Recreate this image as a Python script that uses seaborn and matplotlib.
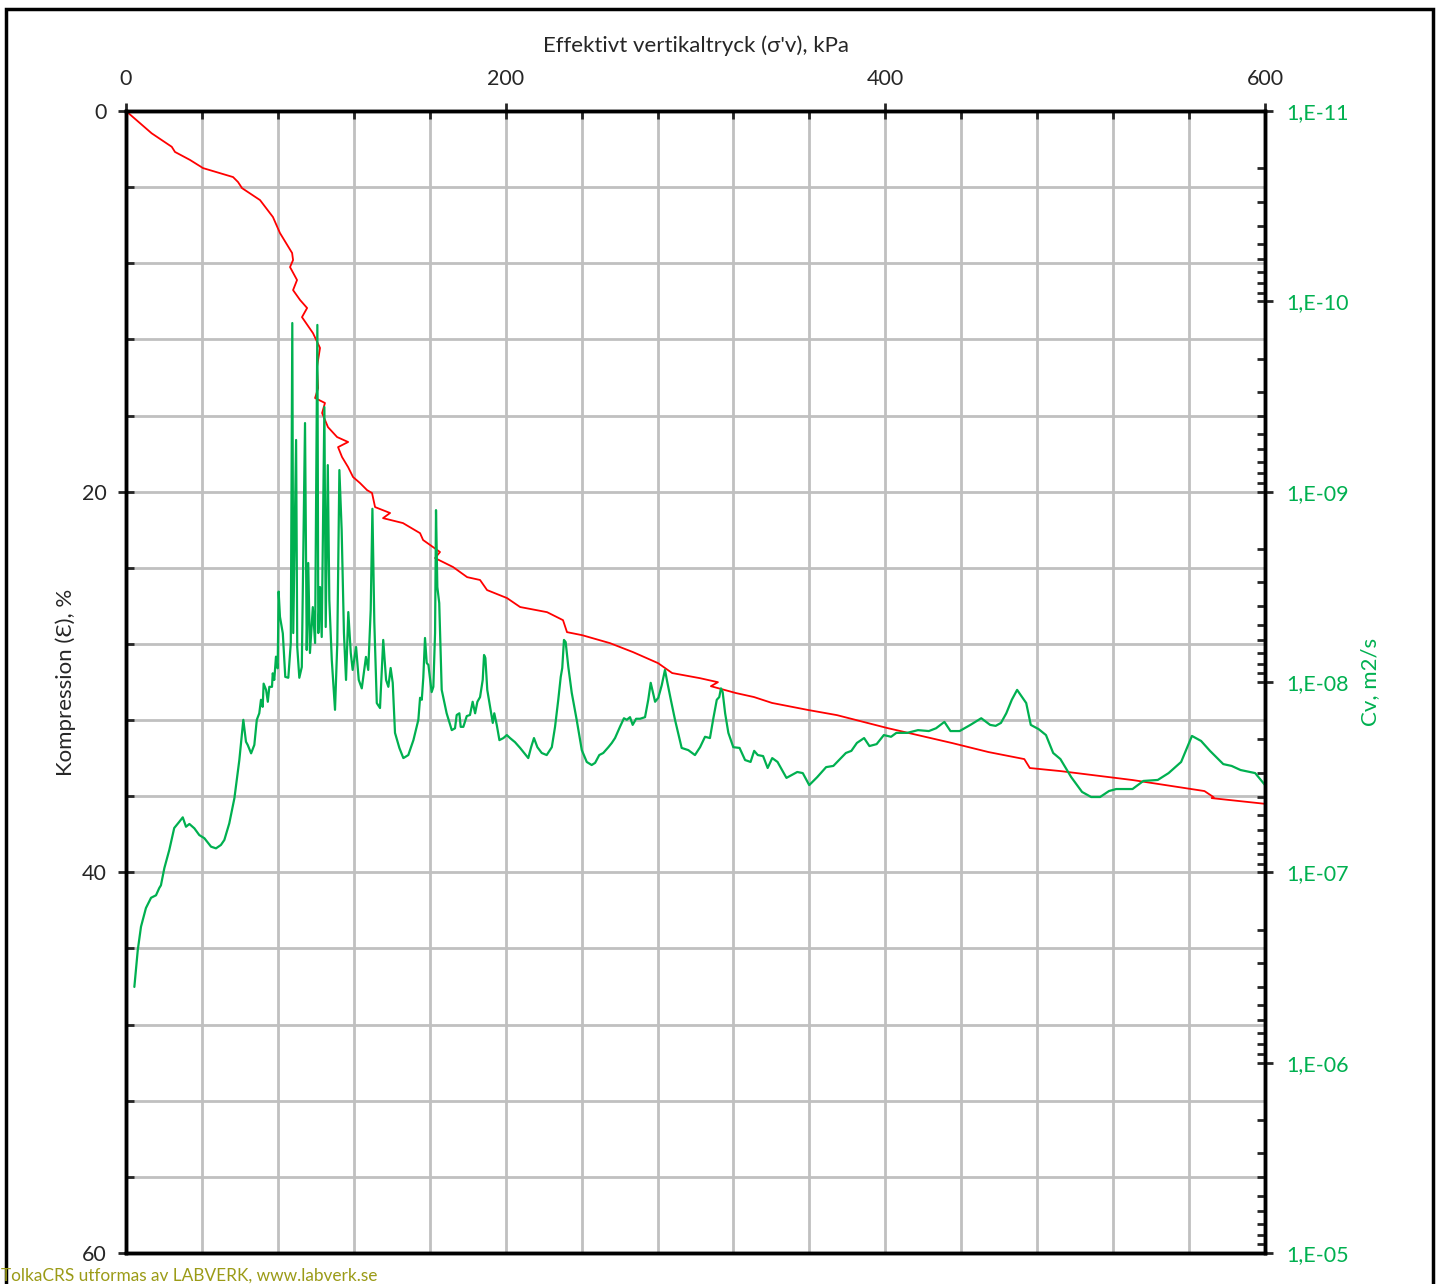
import numpy as np
import matplotlib
matplotlib.use("Agg")
import matplotlib.pyplot as plt
from matplotlib.patches import Rectangle
from matplotlib.ticker import LogLocator, FuncFormatter, NullFormatter
import seaborn as sns

# compression curve: effective vertical stress (kPa) vs compression (%)
p_red = [0, 13.5, 24.1, 25.8, 33.7, 40.6, 56.4, 59.0, 61.1, 70.6, 77.4, 81.1, 87.5, 88.0, 86.4,
         90.1, 88.0, 91.7, 95.4, 92.7, 98.5, 102.2, 100.6, 101.2, 99.6, 104.8, 103.3, 106.4,
         111.2, 117.0, 111.7, 113.8, 117.0, 119.6, 123.3, 127.0, 129.6, 131.2, 139.1, 135.4,
         145.9, 154.9, 156.5, 165.4, 162.8, 172.3, 179.7, 186.5, 190.2, 200.7, 207.6, 221.8,
         230.2, 232.3, 240.3, 255.0, 267.1, 280.3, 287.7, 302.4, 311.8, 308.1, 321.3, 330.8,
         340.3, 359.3, 374.5, 401.1, 435.3, 454.3, 473.2, 476.1, 492.2, 530.2, 568.1, 572.9,
         571.9, 600.0]
eps_red = [0, 1.17, 1.88, 2.15, 2.57, 3.00, 3.47, 3.73, 4.05, 4.68, 5.57, 6.41, 7.46, 7.83, 8.20,
           8.88, 9.41, 9.93, 10.35, 10.83, 11.67, 12.45, 13.45, 14.56, 15.08, 15.34, 15.87, 16.61,
           17.13, 17.39, 17.66, 18.18, 18.71, 19.23, 19.55, 19.92, 20.07, 20.81, 21.12, 21.39,
           21.65, 22.18, 22.54, 23.17, 23.49, 23.96, 24.49, 24.64, 25.17, 25.59, 26.06, 26.33,
           26.75, 27.38, 27.54, 27.96, 28.43, 29.01, 29.53, 29.80, 30.01, 30.22, 30.58, 30.79,
           31.10, 31.47, 31.74, 32.42, 33.21, 33.68, 34.05, 34.52, 34.68, 35.15, 35.73, 36.05,
           36.10, 36.40]

# consolidation coefficient: stress (kPa) vs Cv (m2/s)
p_cv = [4.4, 6.2, 7.9, 10.5, 13.2, 15.8, 17.5, 18.4, 20.2, 22.8, 25.4, 28.1, 29.9, 31.6, 33.4,
        36.0, 38.6, 41.3, 44.8, 47.4, 50.0, 51.8, 54.4, 57.1, 59.7, 61.8, 63.2, 64.1, 65.9, 67.6,
        68.9, 70.2, 71.1, 72.0, 72.5, 73.8, 74.7, 75.5, 76.9, 77.3, 78.1, 79.0, 79.9, 80.4, 81.1,
        82.6, 83.9, 85.5, 86.8, 87.6, 88.1, 89.6, 90.2, 91.3, 92.6, 94.3, 95.2, 96.0, 96.9, 98.4,
        99.6, 100.8, 101.3, 102.2, 103.1, 104.5, 105.2, 106.3, 107.1, 108.4, 110.1, 111.3, 112.4,
        113.6, 114.8, 115.9, 117.1, 118.4, 119.4, 121.2, 122.6, 124.2, 126.4, 127.6, 128.9,
        129.8, 130.8, 132.1, 133.8, 135.5, 137.0, 138.2, 139.4, 140.5, 141.7, 144.0, 146.1,
        148.7, 151.4, 154.0, 154.9, 155.8, 156.6, 157.5, 158.4, 159.3, 161.0, 161.9, 162.8,
        163.3, 164.0, 165.0, 166.3, 168.9, 171.6, 173.3, 174.2, 175.6, 176.3, 177.7, 179.5,
        181.2, 182.6, 183.9, 185.1, 186.5, 187.9, 188.6, 189.3, 190.3, 191.8, 193.2, 194.0,
        195.3, 196.7, 198.8, 200.6, 202.3, 204.9, 207.6, 211.9, 213.4, 214.9, 216.7, 219.0,
        221.6, 224.3, 226.0, 227.7, 229.0, 229.8, 230.7, 231.6, 233.0, 234.8, 237.4, 240.1,
        242.7, 245.3, 247.1, 249.3, 251.4, 254.1, 255.9, 257.6, 260.2, 262.3, 263.8, 265.5,
        266.9, 268.7, 270.8, 273.4, 275.1, 276.4, 277.5, 278.7, 280.4, 282.2, 283.9, 285.2,
        287.0, 289.2, 292.7, 296.2, 299.7, 302.4, 305.0, 307.6, 309.4, 311.2, 312.5, 313.4,
        314.3, 315.6, 317.3, 319.9, 323.2, 326.1, 329.0, 330.9, 332.8, 335.6, 338.0, 340.4,
        343.2, 347.9, 353.6, 356.5, 359.9, 364.1, 368.8, 372.6, 379.2, 382.1, 385.0, 388.8,
        391.6, 395.4, 399.2, 403.0, 405.8, 411.5, 417.2, 422.9, 426.7, 431.1, 434.3, 439.1,
        444.8, 450.5, 455.2, 458.1, 460.9, 463.7, 466.6, 469.4, 474.2, 476.6, 480.8, 484.6,
        488.4, 492.2, 497.9, 503.6, 508.4, 513.1, 517.8, 521.6, 530.2, 535.9, 543.5, 549.2,
        555.8, 561.5, 566.3, 571.0, 578.0, 582.4, 587.1, 594.8, 600.0]
cv = [4.0e-7, 2.56e-7, 1.93e-7, 1.54e-7, 1.36e-7, 1.32e-7, 1.21e-7, 1.17e-7, 9.5e-8, 7.63e-8,
      5.85e-8, 5.42e-8, 5.14e-8, 5.76e-8, 5.57e-8, 5.87e-8, 6.37e-8, 6.62e-8, 7.33e-8, 7.48e-8,
      7.18e-8, 6.76e-8, 5.53e-8, 4.08e-8, 2.57e-8, 1.58e-8, 2.06e-8, 2.14e-8, 2.37e-8, 2.14e-8,
      1.58e-8, 1.46e-8, 1.24e-8, 1.35e-8, 1.02e-8, 1.10e-8, 1.27e-8, 1.06e-8, 1.06e-8, 9.0e-9,
      9.75e-9, 7.36e-9, 8.47e-9, 3.35e-9, 4.54e-9, 5.55e-9, 9.4e-9, 9.5e-9, 6.24e-9, 1.30e-10,
      5.53e-9, 5.35e-10, 6.55e-9, 9.5e-9, 8.34e-9, 4.36e-10, 6.79e-9, 2.37e-9, 7.04e-9, 4.04e-9,
      6.24e-9, 1.33e-10, 5.53e-9, 3.17e-9, 5.80e-9, 3.59e-10, 5.14e-9, 7.25e-10, 3.71e-9, 7.66e-9,
      1.40e-8, 6.24e-9, 7.7e-10, 1.59e-9, 5.53e-9, 9.75e-9, 4.29e-9, 7.04e-9, 8.64e-9, 6.55e-9,
      9.75e-9, 1.08e-8, 7.38e-9, 8.64e-9, 4.18e-9, 1.23e-9, 4.84e-9, 1.29e-8, 1.37e-8, 6.01e-9,
      9.75e-9, 1.06e-8, 8.44e-9, 1.01e-8, 1.85e-8, 2.22e-8, 2.51e-8, 2.42e-8, 2.02e-8, 1.58e-8,
      1.21e-8, 1.24e-8, 9.5e-9, 5.87e-9, 7.94e-9, 8.14e-9, 1.13e-8, 1.06e-8, 5.53e-9, 1.25e-9,
      3.17e-9, 3.85e-9, 1.10e-8, 1.46e-8, 1.79e-8, 1.75e-8, 1.49e-8, 1.46e-8, 1.72e-8, 1.72e-8,
      1.51e-8, 1.49e-8, 1.27e-8, 1.46e-8, 1.27e-8, 1.20e-8, 9.75e-9, 7.21e-9, 7.48e-9, 1.10e-8,
      1.35e-8, 1.64e-8, 1.46e-8, 1.68e-8, 2.02e-8, 1.97e-8, 1.90e-8, 1.97e-8, 2.07e-8, 2.22e-8,
      2.51e-8, 2.20e-8, 1.97e-8, 2.20e-8, 2.36e-8, 2.42e-8, 2.20e-8, 1.72e-8, 1.24e-8, 9.4e-9,
      8.44e-9, 6.01e-9, 6.17e-9, 8.34e-9, 1.14e-8, 1.58e-8, 2.28e-8, 2.63e-8, 2.73e-8, 2.66e-8,
      2.42e-8, 2.36e-8, 2.20e-8, 2.09e-8, 1.97e-8, 1.72e-8, 1.55e-8, 1.58e-8, 1.53e-8, 1.68e-8,
      1.56e-8, 1.56e-8, 1.53e-8, 1.24e-8, 1.01e-8, 1.13e-8, 1.27e-8, 1.21e-8, 1.04e-8, 8.64e-9,
      1.01e-8, 1.24e-8, 1.58e-8, 2.22e-8, 2.28e-8, 2.42e-8, 2.20e-8, 1.94e-8, 1.97e-8, 1.55e-8,
      1.24e-8, 1.20e-8, 1.08e-8, 1.13e-8, 1.46e-8, 1.85e-8, 2.20e-8, 2.22e-8, 2.57e-8, 2.63e-8,
      2.30e-8, 2.42e-8, 2.45e-8, 2.83e-8, 2.51e-8, 2.63e-8, 3.19e-8, 2.97e-8, 3.01e-8, 3.48e-8,
      3.16e-8, 2.80e-8, 2.76e-8, 2.36e-8, 2.30e-8, 2.09e-8, 1.97e-8, 2.17e-8, 2.12e-8, 1.90e-8,
      1.94e-8, 1.85e-8, 1.85e-8, 1.79e-8, 1.81e-8, 1.75e-8, 1.62e-8, 1.81e-8, 1.81e-8, 1.68e-8,
      1.55e-8, 1.68e-8, 1.70e-8, 1.64e-8, 1.46e-8, 1.24e-8, 1.10e-8, 1.29e-8, 1.68e-8, 1.77e-8,
      1.90e-8, 2.36e-8, 2.54e-8, 3.16e-8, 3.78e-8, 4.02e-8, 4.02e-8, 3.74e-8, 3.65e-8, 3.65e-8,
      3.31e-8, 3.27e-8, 3.01e-8, 2.63e-8, 1.92e-8, 2.04e-8, 2.30e-8, 2.70e-8, 2.76e-8, 2.90e-8,
      3.01e-8, 3.48e-8]

RED = '#FF0000'
GREEN = '#00B050'
FS = 15.5

sns.set_style("white")
plt.rcParams['font.family'] = ['Lato', 'DejaVu Sans']

fig = plt.figure(figsize=(14.4, 12.84), dpi=100)
ax = fig.add_axes([0.0875, 0.02414, 0.7910, 0.8894])
ax2 = ax.twinx()
ax2.set_yscale('log')

sns.lineplot(x=p_red, y=eps_red, ax=ax, color=RED, lw=1.3, sort=False, estimator=None)
sns.lineplot(x=p_cv, y=cv, ax=ax2, color=GREEN, lw=1.6, sort=False, estimator=None)

# left / top axes
ax.set_xlim(0, 600)
ax.set_ylim(60, 0)
ax.xaxis.tick_top()
ax.xaxis.set_label_position('top')
ax.set_xticks([0, 200, 400, 600])
ax.set_xticks(np.arange(0, 601, 40), minor=True)
ax.set_yticks([0, 20, 40, 60])
ax.set_yticks(np.arange(0, 61, 4), minor=True)
ax.grid(which='both', color='#C0C0C0', lw=2)
ax.set_axisbelow(True)
ax.tick_params(axis='x', which='major', direction='inout', length=12, width=2,
               top=True, bottom=False, labeltop=True, labelbottom=False, labelsize=FS, pad=10)
ax.tick_params(axis='x', which='minor', direction='in', length=6, width=2, top=True, bottom=False)
ax.tick_params(axis='y', which='major', direction='inout', length=12, width=2, left=True,
               labelsize=FS, pad=8)
ax.tick_params(axis='y', which='minor', direction='in', length=6, width=2, left=True)
ax.set_xlabel("Effektivt vertikaltryck (σ'v), kPa", fontsize=FS + 0.5, labelpad=12)
ax.set_ylabel("Kompression (Ɛ), %", fontsize=FS + 0.5, labelpad=4)

# right axis, Cv
ax2.set_ylim(1e-5, 1e-11)
ax2.yaxis.set_major_locator(LogLocator(base=10, numticks=20))
ax2.yaxis.set_minor_locator(LogLocator(base=10, subs=np.arange(2, 10), numticks=20))
ax2.yaxis.set_major_formatter(FuncFormatter(lambda v, pos: "1,E%03d" % round(np.log10(v))))
ax2.yaxis.set_minor_formatter(NullFormatter())
ax2.tick_params(axis='y', which='major', direction='inout', length=12, width=2,
                labelsize=FS, labelcolor=GREEN, pad=9)
ax2.tick_params(axis='y', which='minor', direction='in', length=6, width=2)
ax2.set_ylabel("Cv, m2/s", fontsize=FS + 0.5, color=GREEN, labelpad=8)

for a in (ax, ax2):
    for s in a.spines.values():
        s.set_color('black')
        s.set_linewidth(2.5)

fig.add_artist(Rectangle((0.0042, -0.05), 0.991, 1.043, transform=fig.transFigure,
                         fill=False, edgecolor='black', lw=2.5))
fig.text(0.001, 1 - 1276 / 1284, "TolkaCRS utformas av LABVERK, www.labverk.se",
         color='#9B9B17', fontsize=12.4, va='center', ha='left')

fig.savefig("out.png", dpi=100)
